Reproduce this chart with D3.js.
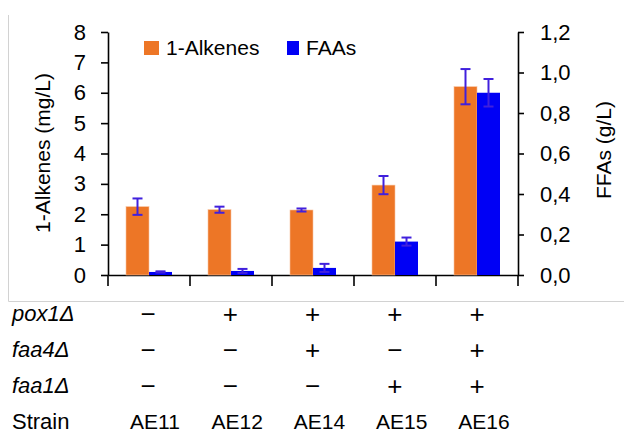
<!DOCTYPE html>
<html>
<head>
<meta charset="utf-8">
<script src="https://cdn.jsdelivr.net/npm/d3@7"></script>
<style>
  body { margin: 0; background: #fff; }
  svg { display: block; font-family: "Liberation Sans", Arial, sans-serif; }
</style>
</head>
<body>
<div id="chart"></div>
<script>
// data
const strains = ["AE11", "AE12", "AE14", "AE15", "AE16"];
const alkenes = [2.25, 2.15, 2.14, 2.96, 6.2];      // mg/L
const alkenesErr = [0.27, 0.1, 0.05, 0.3, 0.58];
const ffas = [0.015, 0.02, 0.035, 0.165, 0.9];      // g/L
const ffasErr = [0.003, 0.01, 0.02, 0.02, 0.068];
const leftTicks = [0, 1, 2, 3, 4, 5, 6, 7, 8];
const rightTicks = [0, 0.2, 0.4, 0.6, 0.8, 1.0, 1.2];
const genotypeRows = [
  { name: "pox1Δ", values: ["−", "+", "+", "+", "+"] },
  { name: "faa4Δ", values: ["−", "−", "+", "−", "+"] },
  { name: "faa1Δ", values: ["−", "−", "−", "+", "+"] }
];

const width = 624;
const height = 433;
const orange = "#ed7626";
const blue = "#0000f5";
const errColor = "#4020dd";

const svg = d3.select("#chart").append("svg")
  .attr("width", width)
  .attr("height", height);

// light frame of the screenshot
svg.append("path")
  .attr("d", "M8.5,15 V301.5 H624")
  .attr("fill", "none")
  .attr("stroke", "#d2d2d2")
  .attr("stroke-width", 1);

// scales
const x0 = 108, x1 = 518;
const x = d3.scaleBand().domain(strains).range([x0, x1]);
const yL = d3.scaleLinear().domain([0, 8]).range([275, 32]);
const yR = d3.scaleLinear().domain([0, 1.2]).range([275, 32]);
const barW = 23;

// axes
const axisL = svg.append("g")
  .attr("transform", `translate(${x0},0)`)
  .call(d3.axisLeft(yL).tickValues(leftTicks).tickSize(7).tickSizeOuter(0).tickPadding(15));
const axisR = svg.append("g")
  .attr("transform", `translate(${x1},0)`)
  .call(d3.axisRight(yR).tickValues(rightTicks).tickSize(6).tickSizeOuter(0).tickPadding(16)
    .tickFormat(d => d3.format(".1f")(d).replace(".", ",")));
const axisB = svg.append("g")
  .attr("transform", "translate(0,275)")
  .call(d3.axisBottom(x).tickSize(0).tickFormat(""));

// boundary ticks on the category axis
axisB.selectAll(".bound")
  .data(d3.range(strains.length + 1))
  .join("line")
  .attr("x1", i => x0 + i * x.bandwidth())
  .attr("x2", i => x0 + i * x.bandwidth())
  .attr("y1", 0)
  .attr("y2", 11)
  .attr("stroke", "#000");

[axisL, axisR, axisB].forEach(a => {
  a.selectAll("path").attr("stroke", "#000").attr("stroke-width", 1.6);
  a.selectAll("line").attr("stroke", "#000").attr("stroke-width", 1.6);
  a.selectAll("text").attr("font-size", 22).attr("fill", "#000")
    .attr("font-family", "Liberation Sans, Arial, sans-serif");
});

// axis titles
svg.append("text")
  .attr("transform", "translate(50,153) rotate(-90)")
  .attr("text-anchor", "middle")
  .attr("font-size", 21)
  .text("1-Alkenes (mg/L)");
svg.append("text")
  .attr("transform", "translate(611,150) rotate(-90)")
  .attr("text-anchor", "middle")
  .attr("font-size", 21)
  .text("FFAs (g/L)");

// bars
const cx = d => x(d) + x.bandwidth() / 2;

svg.append("g").selectAll("rect")
  .data(strains)
  .join("rect")
  .attr("x", d => cx(d) - barW)
  .attr("y", (d, i) => yL(alkenes[i]))
  .attr("width", barW)
  .attr("height", (d, i) => yL(0) - yL(alkenes[i]))
  .attr("fill", orange)
  .attr("stroke", "#f7c4a0")
  .attr("stroke-width", 0.6);

svg.append("g").selectAll("rect")
  .data(strains)
  .join("rect")
  .attr("x", d => cx(d))
  .attr("y", (d, i) => yR(ffas[i]))
  .attr("width", barW)
  .attr("height", (d, i) => yR(0) - yR(ffas[i]))
  .attr("fill", blue);

// error bars
function errorBars(vals, errs, scale, offset) {
  const g = svg.append("g").attr("stroke", errColor).attr("stroke-width", 2).attr("fill", "none");
  strains.forEach((s, i) => {
    const px = cx(s) + offset;
    const top = scale(vals[i] + errs[i]);
    const bot = scale(vals[i] - errs[i]);
    g.append("line").attr("x1", px).attr("x2", px).attr("y1", top).attr("y2", bot);
    g.append("line").attr("x1", px - 5).attr("x2", px + 5).attr("y1", top).attr("y2", top);
    g.append("line").attr("x1", px - 5).attr("x2", px + 5).attr("y1", bot).attr("y2", bot);
  });
}
errorBars(alkenes, alkenesErr, yL, -barW / 2);
errorBars(ffas, ffasErr, yR, barW / 2);

// legend
const legend = svg.append("g").attr("font-size", 21);
legend.append("rect").attr("x", 144).attr("y", 41).attr("width", 15).attr("height", 14).attr("fill", orange);
legend.append("text").attr("x", 166).attr("y", 55).text("1-Alkenes");
legend.append("rect").attr("x", 287).attr("y", 41).attr("width", 12).attr("height", 14).attr("fill", blue);
legend.append("text").attr("x", 306).attr("y", 55).text("FAAs");

// genotype table
const col = d3.scalePoint().domain(strains).range([148, 477]);
const rowY = [321, 357, 393];

genotypeRows.forEach((row, r) => {
  svg.append("text")
    .attr("x", 12).attr("y", rowY[r])
    .attr("font-size", 22).attr("font-style", "italic")
    .text(row.name);
  svg.append("g").selectAll("text")
    .data(row.values)
    .join("text")
    .attr("x", (d, i) => col(strains[i]))
    .attr("y", rowY[r] + 2)
    .attr("text-anchor", "middle")
    .attr("font-size", 26)
    .text(d => d);
});

svg.append("text")
  .attr("x", 12).attr("y", 429)
  .attr("font-size", 22)
  .text("Strain");
svg.append("g").selectAll("text")
  .data(strains)
  .join("text")
  .attr("x", d => col(d) + 7)
  .attr("y", 429)
  .attr("text-anchor", "middle")
  .attr("font-size", 21)
  .text(d => d);
</script>
</body>
</html>
